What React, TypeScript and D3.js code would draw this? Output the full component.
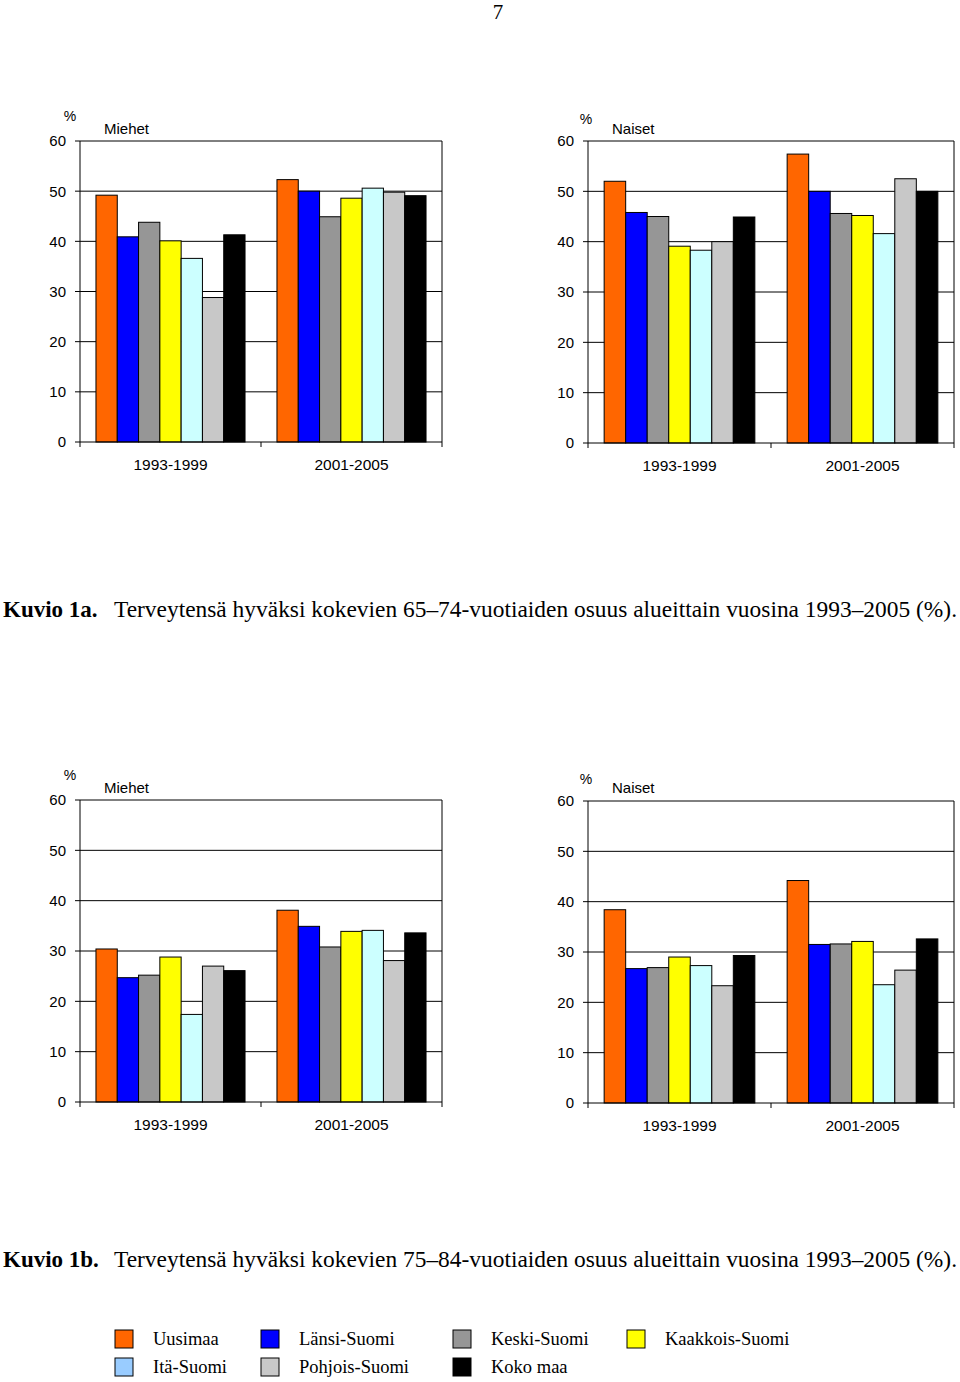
import * as d3 from 'd3';

// region names and colours
const regions = ['Uusimaa', 'Länsi-Suomi', 'Keski-Suomi', 'Kaakkois-Suomi', 'Itä-Suomi', 'Pohjois-Suomi', 'Koko maa'];
const barColors = ['#FF6600', '#0000FF', '#969696', '#FFFF00', '#CCFFFF', '#C8C8C8', '#000000'];
const legendColors = ['#FF6600', '#0000FF', '#969696', '#FFFF00', '#99CCFF', '#C8C8C8', '#000000'];

const periods = ['1993-1999', '2001-2005'];
const yTicks = [0, 10, 20, 30, 40, 50, 60];

// 65-74 vuotiaat
const men6574_9399 = [49.2, 40.9, 43.8, 40.1, 36.6, 28.8, 41.3];
const men6574_0105 = [52.3, 50.0, 44.9, 48.6, 50.6, 49.8, 49.1];
const women6574_9399 = [52.0, 45.8, 45.0, 39.1, 38.3, 40.0, 44.9];
const women6574_0105 = [57.4, 50.0, 45.6, 45.2, 41.6, 52.5, 50.0];

// 75-84 vuotiaat
const men7584_9399 = [30.4, 24.7, 25.2, 28.8, 17.4, 27.0, 26.1];
const men7584_0105 = [38.1, 34.9, 30.8, 33.9, 34.1, 28.1, 33.6];
const women7584_9399 = [38.4, 26.7, 26.9, 29.0, 27.3, 23.3, 29.3];
const women7584_0105 = [44.2, 31.5, 31.6, 32.1, 23.5, 26.4, 32.6];

const SANS = '"Liberation Sans", Arial, sans-serif';
const SERIF = '"Liberation Serif", "Times New Roman", serif';

interface ChartProps {
  left: number;
  right: number;
  top: number;
  bottom: number;
  title: string;
  pctX: number;
  pctY: number;
  titleY: number;
  series: number[][]; // per period
}

const Chart = ({ left, right, top, bottom, title, pctX, pctY, titleY, series }: ChartProps) => {
  const x = d3.scaleBand<string>().domain(periods).range([left, right]).padding(0);
  const inner = d3
    .scaleBand<string>()
    .domain(regions)
    .range([0, x.bandwidth()])
    .paddingInner(0)
    .paddingOuter(0.75);
  const y = d3.scaleLinear().domain([0, 60]).range([bottom, top]);

  return (
    <g>
      {/* gridlines */}
      {yTicks.slice(1, -1).map((t) => (
        <line key={t} x1={left} x2={right} y1={y(t)} y2={y(t)} stroke="#000" strokeWidth={1} />
      ))}
      {/* plot border top/right */}
      <line x1={left} x2={right} y1={top} y2={top} stroke="#000" />
      <line x1={right} x2={right} y1={top} y2={bottom} stroke="#000" />

      {/* bars */}
      {periods.map((p, pi) =>
        regions.map((r, ri) => (
          <rect
            key={p + r}
            x={(x(p) || 0) + (inner(r) || 0)}
            y={y(series[pi][ri])}
            width={inner.bandwidth()}
            height={bottom - y(series[pi][ri])}
            fill={barColors[ri]}
            stroke="#000"
            strokeWidth={1}
          />
        ))
      )}

      {/* axes */}
      <line x1={left} x2={left} y1={top} y2={bottom} stroke="#000" />
      <line x1={left} x2={right} y1={bottom} y2={bottom} stroke="#000" />
      {yTicks.map((t) => (
        <g key={t}>
          <line x1={left - 5} x2={left} y1={y(t)} y2={y(t)} stroke="#000" />
          <text x={left - 14} y={y(t)} dy="0.36em" textAnchor="end" fontFamily={SANS} fontSize={15}>
            {t}
          </text>
        </g>
      ))}
      {[left, ...periods.map((p) => (x(p) || 0) + x.bandwidth())].map((tx, i) => (
        <line key={i} x1={tx} x2={tx} y1={bottom} y2={bottom + 5} stroke="#000" />
      ))}
      {periods.map((p) => (
        <text
          key={p}
          x={(x(p) || 0) + x.bandwidth() / 2}
          y={bottom + 28}
          textAnchor="middle"
          fontFamily={SANS}
          fontSize={15.5}
        >
          {p}
        </text>
      ))}

      <text x={pctX} y={pctY} textAnchor="middle" fontFamily={SANS} fontSize={14}>
        %
      </text>
      <text x={left + 24} y={titleY} fontFamily={SANS} fontSize={15}>
        {title}
      </text>
    </g>
  );
};

const legendCols = [115, 261, 453, 627];
const legendRows = [1330, 1358];

export default function App() {
  return (
    <div style={{ position: 'absolute', left: 0, top: 0 }}>
      <svg width={960} height={1382} style={{ display: 'block', background: '#fff' }}>
        <text x={498} y={19} textAnchor="middle" fontFamily={SERIF} fontSize={21}>
          7
        </text>

        <Chart left={80} right={442} top={141} bottom={442} title="Miehet" pctX={70} pctY={121} titleY={134}
          series={[men6574_9399, men6574_0105]} />
        <Chart left={588} right={954} top={141} bottom={443} title="Naiset" pctX={586} pctY={124} titleY={134}
          series={[women6574_9399, women6574_0105]} />

        <text x={3} y={617} fontFamily={SERIF} fontSize={23} fontWeight="bold">
          Kuvio 1a.
        </text>
        <text x={114} y={617} fontFamily={SERIF} fontSize={23} textLength={843} lengthAdjust="spacingAndGlyphs">
          Terveytensä hyväksi kokevien 65–74-vuotiaiden osuus alueittain vuosina 1993–2005 (%).
        </text>

        <Chart left={80} right={442} top={800} bottom={1102} title="Miehet" pctX={70} pctY={780} titleY={793}
          series={[men7584_9399, men7584_0105]} />
        <Chart left={588} right={954} top={801} bottom={1103} title="Naiset" pctX={586} pctY={784} titleY={793}
          series={[women7584_9399, women7584_0105]} />

        <text x={3} y={1267} fontFamily={SERIF} fontSize={23} fontWeight="bold">
          Kuvio 1b.
        </text>
        <text x={114} y={1267} fontFamily={SERIF} fontSize={23} textLength={843} lengthAdjust="spacingAndGlyphs">
          Terveytensä hyväksi kokevien 75–84-vuotiaiden osuus alueittain vuosina 1993–2005 (%).
        </text>

        {/* legend */}
        {regions.map((r, i) => {
          const col = i < 4 ? i : i - 4;
          const row = i < 4 ? 0 : 1;
          const lx = legendCols[col];
          const ly = legendRows[row];
          return (
            <g key={r}>
              <rect x={lx} y={ly} width={18} height={18} fill={legendColors[i]} stroke="#000" strokeWidth={1} />
              <text x={lx + 38} y={ly + 15} fontFamily={SERIF} fontSize={18.5}>
                {r}
              </text>
            </g>
          );
        })}
      </svg>
    </div>
  );
}
